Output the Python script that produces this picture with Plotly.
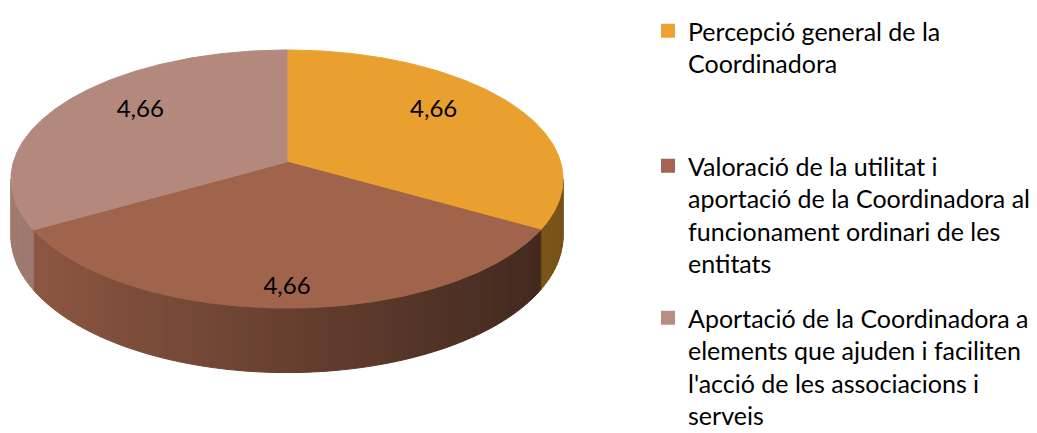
import numpy as np
import plotly.graph_objects as go

# ---------------- data ----------------
categories = [
    "Percepció general de la<br>Coordinadora",
    "Valoració de la utilitat i<br>aportació de la Coordinadora al<br>funcionament ordinari de les<br>entitats",
    "Aportació de la Coordinadora a<br>elements que ajuden i faciliten<br>l'acció de les associacions i<br>serveis",
]
values = [4.66, 4.66, 4.66]
top_colors = ["#E9A02E", "#A0634B", "#B3897D"]
legend_colors = ["#EFA232", "#A5644E", "#B88E84"]
side_boost = [1.28, 1.0, 1.0]

# ---------------- geometry (page pixel space) ----------------
W, H = 1037, 433
OFF = 8  # page body margin
CX, CY = 287, 162
R, RY = 273.6, 126.8
P = 0.132
D = 56
FONT = "Lato"


def proj(theta_deg, rx=1.0, ry=1.0):
    t = np.radians(theta_deg)
    s = 1.0 / (1.0 + P * np.sin(t))
    return CX + R * rx * np.cos(t) * s, CY - RY * ry * np.sin(t) * s, s


def hex2rgb(h):
    h = h.lstrip("#")
    return [int(h[i:i + 2], 16) for i in (0, 2, 4)]


fig = go.Figure()

total = float(sum(values))
slices = []
start = 90.0
for v in values:
    end = start - v / total * 360.0
    slices.append((end, start))
    start = end

amin = np.degrees(np.arcsin(P))
vis_lo, vis_hi = -180 + amin, -amin

# ---- side walls ----
for i, (a1, a0) in enumerate(slices):
    base = hex2rgb(top_colors[i])
    for k in (-1, 0, 1):
        lo = max(a1 + 360 * k, vis_lo)
        hi = min(a0 + 360 * k, vis_hi)
        if hi <= lo:
            continue
        edges = np.linspace(lo, hi, max(2, int((hi - lo) / 1.5) + 2))
        for j in range(len(edges) - 1):
            th = np.linspace(edges[j], edges[j + 1], 4)
            xt, yt, s = proj(th)
            xb, yb = xt, yt + D * s
            xs = np.concatenate([xt, xb[::-1], xt[:1]])
            ys = np.concatenate([yt, yb[::-1], yt[:1]])
            xm = float(np.mean(xt))
            f = (0.9 - 0.5 * (xm - 10) / 550.0) * side_boost[i]
            f = min(f, 1.0)
            c = "rgb(%d,%d,%d)" % tuple(int(min(255, b * f)) for b in base)
            fig.add_trace(go.Scatter(
                x=xs, y=ys, mode="lines", fill="toself", fillcolor=c,
                line=dict(color=c, width=1), hoverinfo="skip", showlegend=False))

# ---- top faces ----
for i, (a1, a0) in enumerate(slices):
    th = np.linspace(a0, a1, 200)
    x, y, _ = proj(th)
    xs = np.concatenate([[CX], x, [CX]])
    ys = np.concatenate([[CY], y, [CY]])
    fig.add_trace(go.Scatter(
        x=xs, y=ys, mode="lines", fill="toself", fillcolor=top_colors[i],
        line=dict(color=top_colors[i], width=1), hoverinfo="skip", showlegend=False))

# ---- data labels ----
lx, ly, lt = [], [], []
for (a1, a0), v in zip(slices, values):
    m = (a0 + a1) / 2.0
    x, y, _ = proj(m, rx=0.66, ry=0.86)
    lx.append(x)
    ly.append(y)
    lt.append(f"{v:.2f}".replace(".", ","))
fig.add_trace(go.Scatter(
    x=lx, y=ly, mode="text", text=lt,
    textfont=dict(family=FONT, size=24, color="#000000"),
    hoverinfo="skip", showlegend=False))

# ---- legend entries ----
legend_names = ["legend", "legend2", "legend3"]
for i, name in enumerate(categories):
    fig.add_trace(go.Scatter(
        x=[None], y=[None], mode="markers", name=name,
        marker=dict(symbol="square", size=14, color=legend_colors[i]),
        legend=legend_names[i], showlegend=True))

leg_common = dict(
    xanchor="left", yanchor="top", valign="top",
    bgcolor="rgba(0,0,0,0)", borderwidth=0,
    font=dict(family=FONT, size=25, color="#000000"),
    itemclick=False, itemdoubleclick=False,
)
leg_x = 640 / W
fig.update_layout(
    width=W, height=H,
    margin=dict(l=0, r=0, t=0, b=0),
    paper_bgcolor="white", plot_bgcolor="white",
    xaxis=dict(range=[OFF, W + OFF], domain=[0, 1], visible=False, fixedrange=True),
    yaxis=dict(range=[H + OFF, OFF], domain=[0, 1], visible=False, fixedrange=True),
    legend=dict(x=leg_x, y=1.0, **leg_common),
    legend2=dict(x=leg_x, y=1 - 135 / H, **leg_common),
    legend3=dict(x=leg_x, y=1 - 287 / H, **leg_common),
)

fig.write_html("out.html")
